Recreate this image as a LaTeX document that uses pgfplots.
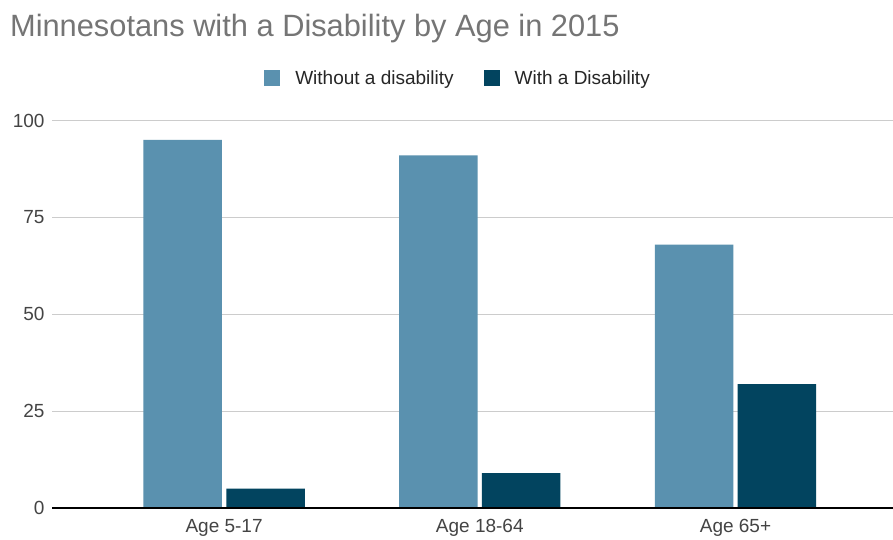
\documentclass[border=0pt]{standalone}
\usepackage{pgfplots}
\pgfplotsset{compat=1.18}
\usepackage{fontspec}
\setmainfont{Liberation Sans}
\definecolor{lightbar}{HTML}{5A91AF}
\definecolor{darkbar}{HTML}{02445F}
\definecolor{titlegray}{HTML}{757575}
\definecolor{ticktext}{HTML}{444444}
\definecolor{gridgray}{HTML}{CCCCCC}
\definecolor{baseline}{HTML}{333333}
\begin{document}
\begin{tikzpicture}[x=1pt,y=1pt]
\useasboundingbox[fill=white] (0,0) rectangle (893,539);
\begin{axis}[
  at={(52pt,31pt)}, anchor=south west,
  scale only axis,
  width=841pt, height=387.5pt,
  xmin=-0.673, xmax=2.616,
  ymin=0, ymax=100,
  ytick={25,50,75,100},
  extra y ticks={0},
  extra y tick style={grid=none},
  xtick={0,1,2},
  xticklabels={Age 5-17, Age 18-64, Age 65+},
  major tick length=0pt,
  axis line style={draw=none},
  ymajorgrids,
  grid style={gridgray, line width=1pt},
  tick label style={font=\fontsize{19}{22}\selectfont, text=ticktext},
  yticklabel style={anchor=east, xshift=-4pt},
  xticklabel style={anchor=north, yshift=-8pt},
  /pgf/number format/assume math mode=true,
  ybar,
  bar width=0.307,
  title={Minnesotans with a Disability by Age in 2015},
  title style={at={(rel axis cs:-0.054,1.2000)}, anchor=base west,
    font=\fontsize{30.8}{34}\selectfont, text=titlegray},
  legend columns=2,
  legend style={at={(rel axis cs:0.4816,1.1097)}, anchor=center,
    draw=none, fill=none, font=\fontsize{19}{22}\selectfont,
    text=black!85, inner sep=0pt,
    /tikz/every even column/.append style={column sep=30pt},
    nodes={inner sep=0pt, text depth=0pt}},
  legend image code/.code={\fill[#1] (0pt,-8pt) rectangle (16pt,8pt);},
  /pgfplots/legend cell align=left,
]
\addplot[draw=none, fill=lightbar, bar shift=-0.162]
  coordinates {(0,95) (1,91) (2,68)};
\addlegendentry{\hspace{15pt}Without a disability}
\addplot[draw=none, fill=darkbar, bar shift=0.162]
  coordinates {(0,5) (1,9) (2,32)};
\addlegendentry{\hspace{15pt}With a Disability}
% horizontal baseline along the value 0
\draw[baseline, line width=1.3pt] (rel axis cs:0,0) -- (rel axis cs:1,0);
\end{axis}
\end{tikzpicture}
\end{document}
